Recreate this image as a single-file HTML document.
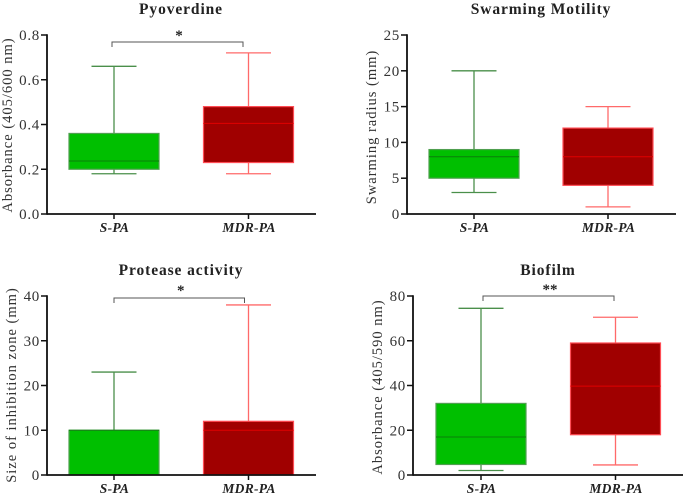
<!DOCTYPE html>
<html>
<head>
<meta charset="utf-8">
<style>
html,body{margin:0;padding:0;background:#fff;}
svg{display:block;font-family:"Liberation Serif",serif;}
</style>
</head>
<body>
<svg id="chart" width="685" height="495" viewBox="0 0 685 495" xmlns="http://www.w3.org/2000/svg"></svg>
<script>
const categories = ['S-PA', 'MDR-PA'];
const panelTitles = ['Pyoverdine', 'Swarming Motility', 'Protease activity', 'Biofilm'];
const yAxisTitles = ['Absorbance (405/600 nm)', 'Swarming radius (mm)', 'Size of inhibition zone (mm)', 'Absorbance (405/590 nm)'];
const yTicks0 = ['0.0', '0.2', '0.4', '0.6', '0.8'];
const yTicks1 = ['0', '5', '10', '15', '20', '25'];
const yTicks2 = ['0', '10', '20', '30', '40'];
const yTicks3 = ['0', '20', '40', '60', '80'];
// [min, q1, median, q3, max]
const pyoverdineSPA = [0.18, 0.2, 0.237, 0.36, 0.66];
const pyoverdineMDR = [0.18, 0.23, 0.405, 0.48, 0.72];
const swarmingSPA = [3, 5, 8, 9, 20];
const swarmingMDR = [1, 4, 8, 12, 15];
const proteaseSPA = [0, 0, 10, 10, 23];
const proteaseMDR = [0, 0, 10, 12, 38];
const biofilmSPA = [2, 4.7, 17, 32, 74.5];
const biofilmMDR = [4.5, 18, 39.7, 59, 70.5];
const significance = ['*', '', '*', '**'];

const panelGeometry = [
  {axisX:47, axisRight:316, top:35, bottom:214, c:[114,248.5], titleX:181, titleY:14, yTitleX:12, yTitleC:125, br:[112,243,42,47], starY:40},
  {axisX:407, axisRight:676, top:35, bottom:214, c:[474,608], titleX:541, titleY:14, yTitleX:376, yTitleC:127, br:null, starY:0},
  {axisX:47, axisRight:316, top:296, bottom:475, c:[114,248.5], titleX:181, titleY:275, yTitleX:16, yTitleC:385, br:[114,244.5,298,303], starY:295},
  {axisX:413, axisRight:683, top:296, bottom:475, c:[481,615.5], titleX:548, titleY:275, yTitleX:382, yTitleC:387, br:[483,614,296,301], starY:294}
];
const panelTicks = [yTicks0, yTicks1, yTicks2, yTicks3];
const panelSeries = [[pyoverdineSPA, pyoverdineMDR], [swarmingSPA, swarmingMDR], [proteaseSPA, proteaseMDR], [biofilmSPA, biofilmMDR]];
const seriesStyles = [
  {fill:'#00bf00', edge:'#4f9f4f', median:'#0a7f0a', whisker:'#4a8f4a'},
  {fill:'#a00000', edge:'#ff4d55', median:'#e00000', whisker:'#ff6a6a'}
];

const root = document.getElementById('chart');
const NS = 'http://www.w3.org/2000/svg';
function mk(tag, attrs, parent, text) {
  const el = document.createElementNS(NS, tag);
  for (const k in attrs) el.setAttribute(k, attrs[k]);
  if (text !== undefined) el.textContent = text;
  parent.appendChild(el);
  return el;
}
function line(x1, y1, x2, y2, stroke, w, parent) {
  return mk('line', {x1:x1, y1:y1, x2:x2, y2:y2, stroke:stroke, 'stroke-width':w}, parent);
}

panelTitles.forEach(function (title, p) {
  const g = panelGeometry[p];
  const ticks = panelTicks[p];
  const yMax = parseFloat(ticks[ticks.length - 1]);
  const yScale = function (v) { return g.bottom - (v / yMax) * (g.bottom - g.top); };

  const panel = mk('g', {}, root);
  
  

  const t = mk('text', {x:g.titleX, y:g.titleY, 'text-anchor':'middle', 'font-size':'15.5', 'font-weight':'bold', fill:'#222', 'letter-spacing':'0.9'}, panel, title);
  
  

  const yt = mk('text', {transform:'translate(' + g.yTitleX + ',' + g.yTitleC + ') rotate(-90)', 'text-anchor':'middle', 'font-size':'14.5', fill:'#333', 'letter-spacing':'1'}, panel, yAxisTitles[p]);
  
  

  panelSeries[p].forEach(function (vals, s) {
    const st = seriesStyles[s];
    const cx = g.c[s];
    const group = mk('g', {}, panel);
    
    
    line(cx, yScale(vals[4]), cx, yScale(vals[3]), st.whisker, 1.3, group);
    line(cx, yScale(vals[1]), cx, yScale(vals[0]), st.whisker, 1.3, group);
    line(cx - 22.5, yScale(vals[4]), cx + 22.5, yScale(vals[4]), st.whisker, 1.3, group);
    line(cx - 22.5, yScale(vals[0]), cx + 22.5, yScale(vals[0]), st.whisker, 1.3, group);
    mk('rect', {x:cx - 45, y:yScale(vals[3]), width:90, height:yScale(vals[1]) - yScale(vals[3]), fill:st.fill, stroke:st.edge, 'stroke-width':1.2}, group);
    line(cx - 45, yScale(vals[2]), cx + 45, yScale(vals[2]), st.median, 1, group);
  });

  const axes = mk('g', {}, panel);
  
  
  line(g.axisX, g.top - 0.8, g.axisX, g.bottom + 0.8, '#111', 1.8, axes);
  line(g.axisX, g.bottom, g.axisRight, g.bottom, '#111', 1.8, axes);

  ticks.forEach(function (label) {
    const y = yScale(parseFloat(label));
    line(g.axisX - 6, y, g.axisX, y, '#111', 1.5, axes);
    const tl = mk('text', {x:g.axisX - 7, y:y + 5, 'text-anchor':'end', 'font-size':'15', fill:'#333', 'letter-spacing':'0.7'}, axes, label);
    
    
  });

  categories.forEach(function (cat, s) {
    line(g.c[s], g.bottom, g.c[s], g.bottom + 5, '#111', 1.5, axes);
    const xl = mk('text', {x:g.c[s] + 0.5, y:g.bottom + 18, 'text-anchor':'middle', 'font-size':'13.5', 'font-weight':'bold', 'font-style':'italic', fill:'#222', 'letter-spacing':'0.3'}, axes, cat);
    
    
  });

  if (g.br) {
    const sig = mk('g', {}, panel);
    
    
    mk('path', {d:'M' + g.br[0] + ' ' + g.br[3] + 'V' + g.br[2] + 'H' + g.br[1] + 'V' + g.br[3], fill:'none', stroke:'#555', 'stroke-width':1}, sig);
    mk('text', {x:(g.br[0] + g.br[1]) / 2 + 1.5, y:g.starY, 'text-anchor':'middle', 'font-size':'15', 'font-weight':'bold', fill:'#222'}, sig, significance[p]);
  }
});
</script>
</body>
</html>
